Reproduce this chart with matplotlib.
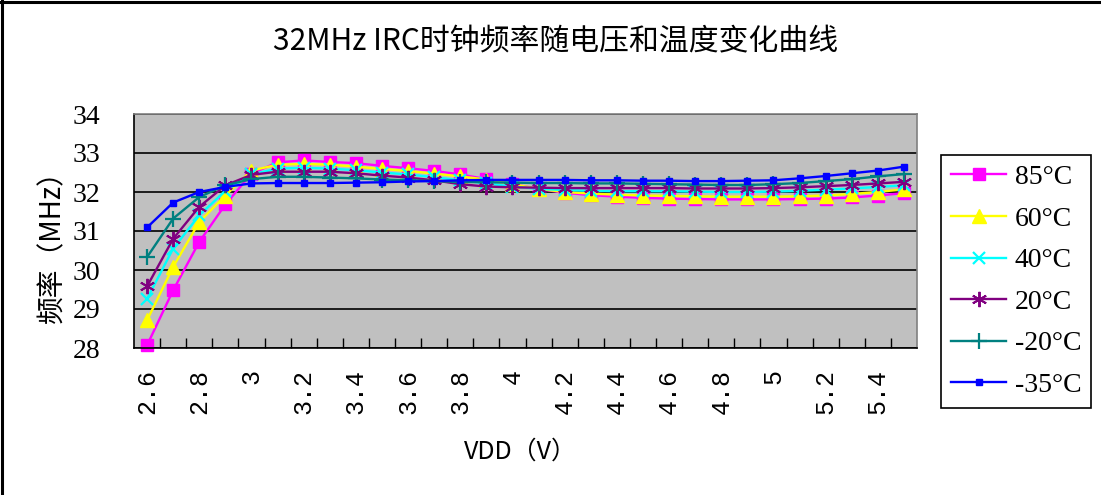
import matplotlib
matplotlib.use("Agg")
import matplotlib.pyplot as plt
from matplotlib.lines import Line2D
import numpy as np

# ---- data ----
categories = ['2.6', '2.7', '2.8', '2.9', '3', '3.1', '3.2', '3.3', '3.4', '3.5',
              '3.6', '3.7', '3.8', '3.9', '4', '4.1', '4.2', '4.3', '4.4', '4.5',
              '4.6', '4.7', '4.8', '4.9', '5', '5.1', '5.2', '5.3', '5.4', '5.5']
f85 = [28.07, 29.48, 30.72, 31.68, 32.47, 32.76, 32.81, 32.77, 32.74, 32.67,
       32.61, 32.54, 32.45, 32.33, 32.20, 32.08, 31.98, 31.92, 31.88, 31.85,
       31.83, 31.82, 31.81, 31.81, 31.81, 31.82, 31.83, 31.86, 31.91, 31.97]
f60 = [28.71, 30.08, 31.23, 31.91, 32.55, 32.70, 32.72, 32.70, 32.65, 32.59,
       32.54, 32.47, 32.40, 32.32, 32.20, 32.08, 32.00, 31.96, 31.93, 31.91,
       31.90, 31.89, 31.88, 31.88, 31.88, 31.89, 31.91, 31.95, 32.00, 32.07]
f40 = [29.26, 30.55, 31.40, 32.03, 32.45, 32.60, 32.62, 32.60, 32.56, 32.50,
       32.45, 32.38, 32.30, 32.22, 32.14, 32.08, 32.05, 32.03, 32.02, 32.02,
       32.02, 32.01, 32.00, 32.00, 32.01, 32.03, 32.06, 32.09, 32.13, 32.17]
f20 = [29.58, 30.80, 31.62, 32.17, 32.44, 32.52, 32.52, 32.52, 32.48, 32.42,
       32.37, 32.30, 32.20, 32.14, 32.12, 32.11, 32.10, 32.10, 32.10, 32.10,
       32.10, 32.09, 32.09, 32.09, 32.10, 32.12, 32.15, 32.18, 32.22, 32.26]
fm20 = [30.33, 31.32, 31.87, 32.17, 32.33, 32.39, 32.39, 32.37, 32.35, 32.32,
        32.30, 32.28, 32.26, 32.25, 32.24, 32.23, 32.23, 32.22, 32.22, 32.21,
        32.20, 32.19, 32.18, 32.18, 32.20, 32.23, 32.28, 32.33, 32.40, 32.46]
fm35 = [31.09, 31.73, 32.00, 32.13, 32.22, 32.23, 32.23, 32.23, 32.24, 32.25,
        32.27, 32.28, 32.30, 32.31, 32.31, 32.31, 32.31, 32.30, 32.30, 32.29,
        32.29, 32.28, 32.28, 32.29, 32.30, 32.35, 32.41, 32.48, 32.55, 32.65]
series_labels = ['85°C', '60°C', '40°C', '20°C', '-20°C', '-35°C']
yticks = [28, 29, 30, 31, 32, 33, 34]

title = '32MHz IRC时钟频率随电压和温度变化曲线'
xlabel = 'VDD（V）'
ylabel = '频率（MHz）'

# ---- styles ----
styles = [
    dict(color='#FF00FF', marker='s', ms=9, mfc='#FF00FF', mec='#FF00FF'),
    dict(color='#FFFF00', marker='^', ms=10, mfc='#FFFF00', mec='#FFFF00'),
    dict(color='#00FFFF', marker='x', ms=9, mew=1.6),
    dict(color='#800080', marker=(6, 2, 0), ms=11, mew=1.4),
    dict(color='#008080', marker='+', ms=12, mew=1.6),
    dict(color='#0000FF', marker='s', ms=5, mfc='#0000FF', mec='#0000FF'),
]

W, H = 1101, 495
fig = plt.figure(figsize=(W / 100, H / 100), dpi=100)
fig.patch.set_facecolor('white')

L, R, T, B = 134, 917, 114, 348
ax = fig.add_axes([L / W, 1 - B / H, (R - L) / W, (B - T) / H])
ax.set_facecolor('#C0C0C0')

x = np.arange(len(categories))
all_series = [f85, f60, f40, f20, fm20, fm35]
for vals, lab, st in zip(all_series, series_labels, styles):
    ax.plot(x, vals, lw=1.7, label=lab, clip_on=False, **st)

ax.set_xlim(-0.5, len(categories) - 0.5)
ax.set_ylim(28, 34)
ax.set_yticks(yticks)
ax.set_yticklabels([str(v) for v in yticks], family='Liberation Serif', fontsize=20)
ax.tick_params(axis='y', length=0, pad=24)
ax.yaxis.grid(True, color='black', lw=1.2)
ax.set_axisbelow(True)

major = x[::2]
ax.set_xticks(major)
ax.set_xticklabels([categories[i] for i in major], rotation=90,
                   family='Liberation Mono', fontsize=18, va='top', ha='center')
ax.tick_params(axis='x', which='major', length=0, pad=15)
ax.set_xticks(np.arange(0.5, len(categories) - 0.5, 1), minor=True)
ax.tick_params(axis='x', which='minor', direction='in', length=7, width=1, color='black')

for s in ['left', 'bottom']:
    ax.spines[s].set_color('black')
    ax.spines[s].set_linewidth(1.2)
for s in ['top', 'right']:
    ax.spines[s].set_color('#808080')
    ax.spines[s].set_linewidth(1.2)

cjk = ['Noto Sans CJK SC', 'DejaVu Sans']
fig.text(556 / W, 1 - 42 / H, title, family=cjk, fontsize=21.5, ha='center', va='center')
fig.text(520 / W, 1 - 452 / H, xlabel, family=cjk, fontsize=18, ha='center', va='center')
fig.text(52 / W, 1 - 240 / H, ylabel, family=cjk, fontsize=20, ha='center', va='center',
         rotation=90)

leg = fig.legend(loc='upper left', bbox_to_anchor=(941 / W, 1 - 155 / H),
                 prop={'family': 'Liberation Serif', 'size': 20},
                 frameon=True, fancybox=False, edgecolor='black', framealpha=1,
                 borderpad=0.35, labelspacing=0.58, handlelength=2.0,
                 handletextpad=0.3, borderaxespad=0)
leg.get_frame().set_linewidth(1.2)

# outer chart frame (top and left edges visible)
fig.add_artist(Line2D([0, 1], [1 - 2 / H, 1 - 2 / H], transform=fig.transFigure,
                      color='black', lw=2.2))
fig.add_artist(Line2D([2 / W, 2 / W], [0, 1], transform=fig.transFigure,
                      color='black', lw=2.2))

fig.savefig('out.png', dpi=100)
